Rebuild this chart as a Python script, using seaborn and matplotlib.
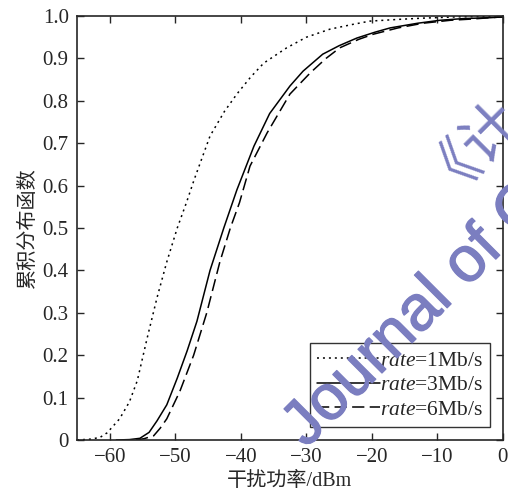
import numpy as np
import pandas as pd
import matplotlib
matplotlib.use('Agg')
import matplotlib.pyplot as plt
import matplotlib.patheffects as pe
import seaborn as sns

# values (interference power in dBm -> CDF)
x_1m = [-65, -63, -61.5, -60.4, -58.5, -57, -55.8, -54.3, -52.8, -51.3, -49.7, -48.3,
        -47.1, -44.7, -42.5, -40.6, -38.5, -36.5, -33, -30, -26.4, -23, -20.3, -16, -12.2, -7, -3, 0]
y_1m = [0, 0.002, 0.006, 0.017, 0.05, 0.09, 0.14, 0.24, 0.335, 0.42, 0.5, 0.56,
        0.615, 0.717, 0.775, 0.816, 0.856, 0.889, 0.925, 0.95, 0.969, 0.98, 0.988, 0.992, 0.995, 0.998, 0.999, 1.0]

x_3m = [-59, -57, -55.4, -54, -52.8, -51.3, -49.7, -48.2, -46.7, -44.7, -42.6, -40.6,
        -38, -35.6, -32.5, -30.5, -27.5, -25, -22.3, -19.5, -17.2, -13, -9.6, -6, -2, 0]
y_3m = [0, 0.001, 0.004, 0.018, 0.045, 0.083, 0.146, 0.21, 0.28, 0.4, 0.5, 0.59,
        0.693, 0.77, 0.835, 0.87, 0.91, 0.93, 0.948, 0.962, 0.972, 0.983, 0.99, 0.994, 0.996, 0.998]

x_6m = [-56, -54.8, -53.3, -52.3, -51.3, -49.3, -47.2, -45.2, -43.2, -41.6, -40.2, -38.6,
        -36, -32.5, -29.4, -27, -24.9, -22, -19.8, -16, -12.2, -8, -4.6, -2, 0]
y_6m = [0, 0.003, 0.01, 0.028, 0.05, 0.115, 0.2, 0.3, 0.42, 0.5, 0.56, 0.646,
        0.724, 0.816, 0.866, 0.9, 0.925, 0.945, 0.957, 0.972, 0.983, 0.99, 0.993, 0.996, 0.998]

series = ['1Mb/s', '3Mb/s', '6Mb/s']
legend_labels = ['$rate$=1Mb/s', '$rate$=3Mb/s', '$rate$=6Mb/s']

df = pd.concat([
    pd.DataFrame({'x': x_1m, 'y': y_1m, 'rate': series[0]}),
    pd.DataFrame({'x': x_3m, 'y': y_3m, 'rate': series[1]}),
    pd.DataFrame({'x': x_6m, 'y': y_6m, 'rate': series[2]}),
], ignore_index=True)

sns.set_style('ticks')
plt.rcParams['font.family'] = ['Liberation Serif', 'Noto Sans CJK SC']
plt.rcParams['mathtext.fontset'] = 'custom'
plt.rcParams['mathtext.it'] = 'Liberation Serif:italic'
plt.rcParams['mathtext.rm'] = 'Liberation Serif'

fig = plt.figure(figsize=(5.08, 4.96), dpi=100)
ax = fig.add_axes([0.1516, 0.1129, 0.8384, 0.8548])

sns.lineplot(data=df, x='x', y='y', hue='rate', style='rate',
             palette=['black'] * 3,
             dashes={'1Mb/s': (1.3, 2.6), '3Mb/s': '', '6Mb/s': (8, 3.5)},
             linewidth=1.1, legend=False, ax=ax, sort=False)

ax.set_xlim(-65, 0)
ax.set_ylim(0, 1)
ax.set_xticks(np.arange(-60, 1, 10))
ax.set_yticks(np.arange(0, 1.01, 0.1))
ax.set_yticklabels(['0'] + [f'{v:.1f}' for v in np.arange(0.1, 1.01, 0.1)])
ax.tick_params(direction='in', top=True, right=True, length=5, width=1,
               labelsize=15, pad=6)
for s in ax.spines.values():
    s.set_linewidth(1.2)

ax.set_xlabel('干扰功率/dBm', fontsize=14.5, labelpad=3,
              family=['Liberation Serif', 'Noto Sans CJK SC'])
ax.set_ylabel('累积分布函数', fontsize=14.5, labelpad=3,
              family=['Noto Sans CJK SC', 'Liberation Serif'])

leg = ax.legend(ax.lines[:3], legend_labels, loc='lower right',
                bbox_to_anchor=(0.97, 0.03), fontsize=15.5, frameon=True,
                fancybox=False, edgecolor='black', handlelength=2.9,
                handletextpad=0.0, borderpad=0.35, labelspacing=0.2,
                borderaxespad=0)
leg.get_frame().set_linewidth(1.0)

# watermark
wm = '#7b7ec0'
thick = [pe.Stroke(linewidth=0.9, foreground=wm), pe.Normal()]
fig.text(306 / 508, 1 - 449 / 496, 'Journal of C', fontsize=46,
         family='Liberation Sans', color=wm, rotation=45, rotation_mode='anchor',
         ha='left', va='baseline', zorder=10, path_effects=thick)
fig.text(434 / 508, 1 - 186 / 496, '《计', fontsize=42,
         family='Noto Sans CJK SC', color=wm, rotation=45, rotation_mode='anchor',
         ha='left', va='baseline', zorder=10)

fig.savefig('out.png', dpi=100)
